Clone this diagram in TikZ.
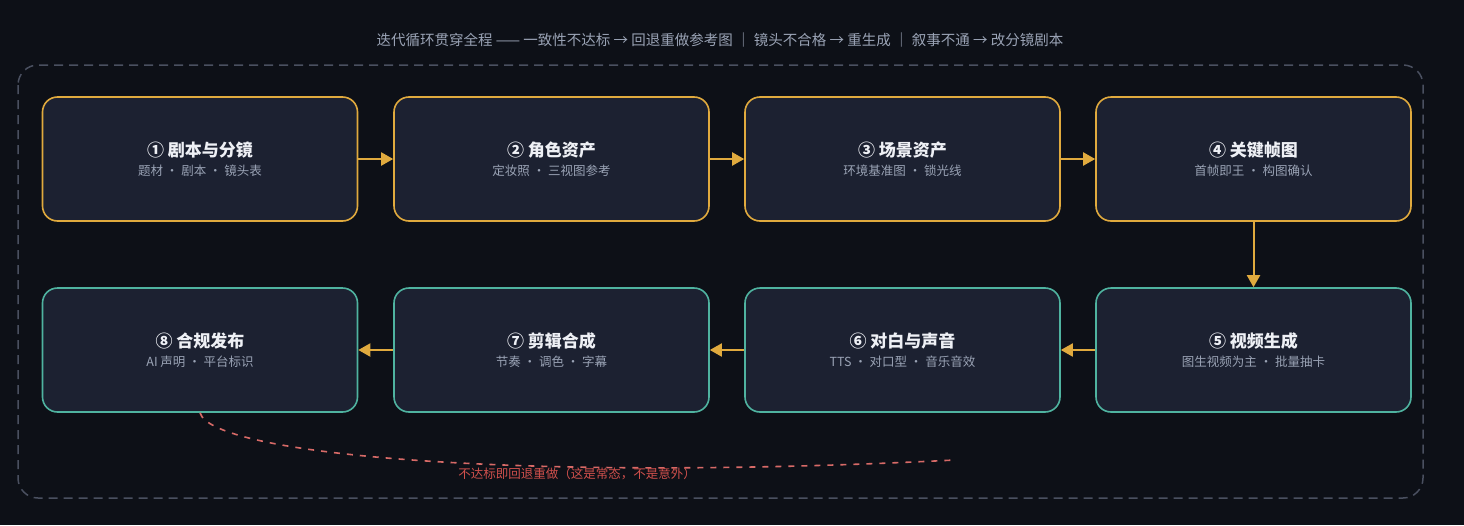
\documentclass[tikz,border=0pt]{standalone}
\usepackage{fontspec}
\setmainfont{Noto Sans CJK SC}
\usetikzlibrary{arrows.meta,positioning}
\definecolor{bgc}{HTML}{0D1017}
\definecolor{boxc}{HTML}{1C2131}
\definecolor{goldc}{HTML}{E0AA3E}
\definecolor{tealc}{HTML}{4FB3A0}
\definecolor{headc}{HTML}{EEF0F5}
\definecolor{subc}{HTML}{9AA3B5}
\definecolor{redc}{HTML}{D0504C}
\definecolor{framec}{HTML}{4A5060}
\newcommand{\stage}[2]{{\fontsize{17}{20}\selectfont\bfseries\color{headc}#1}\\[6pt]{\fontsize{12.5}{15}\selectfont\color{subc}#2}}

\begin{document}
\begin{tikzpicture}[x=1pt,y=-1pt,>={Triangle[length=12pt,width=13pt]},
		stagebox/.style={rectangle,rounded corners=15pt,draw,line width=1.6pt,fill=boxc,
			minimum width=315pt,minimum height=124pt,align=center,inner sep=0pt},
		gold/.style={stagebox,draw=goldc},
		teal/.style={stagebox,draw=tealc},
		flow/.style={->,line width=2pt,color=goldc}]
		\fill[bgc] (0,0) rectangle (1464,525);
		\useasboundingbox (0,0) rectangle (1464,525);
		\draw[framec,line width=1.5pt,dash pattern=on 9pt off 6pt,rounded corners=20pt] (18,65) rectangle (1423,498);
		\node (title) at (720,40) {\fontsize{14.5}{17}\selectfont\color{subc}迭代循环贯穿全程 —— 一致性不达标 → 回退重做参考图 ｜ 镜头不合格 → 重生成 ｜ 叙事不通 → 改分镜剧本};
		
		\node[gold] (s1) at (200,159) {\stage{① 剧本与分镜}{题材 · 剧本 · 镜头表}};
		\node[gold] (s2) at (551.5,159) {\stage{② 角色资产}{定妆照 · 三视图参考}};
		\node[gold] (s3) at (902.5,159) {\stage{③ 场景资产}{环境基准图 · 锁光线}};
		\node[gold] (s4) at (1253.5,159) {\stage{④ 关键帧图}{首帧即王 · 构图确认}};
		\node[teal] (s5) at (1253.5,350) {\stage{⑤ 视频生成}{图生视频为主 · 批量抽卡}};
		\node[teal] (s6) at (902.5,350) {\stage{⑥ 对白与声音}{TTS · 对口型 · 音乐音效}};
		\node[teal] (s7) at (551.5,350) {\stage{⑦ 剪辑合成}{节奏 · 调色 · 字幕}};
		\node[teal] (s8) at (200,350) {\stage{⑧ 合规发布}{AI 声明 · 平台标识}};
		
		\draw[flow] (s1) -- (s2);
		\draw[flow] (s2) -- (s3);
		\draw[flow] (s3) -- (s4);
		\draw[flow] (s4) -- (s5);
		\draw[flow] (s5) -- (s6);
		\draw[flow] (s6) -- (s7);
		\draw[flow] (s7) -- (s8);
		
		\coordinate (back) at (955,460);
		\draw[redc!85,line width=1.6pt,dash pattern=on 6pt off 7pt] (s8.south) .. controls (212,455) and (520,482) .. (back);
		\node (note) at (577,474) {\fontsize{12.5}{15}\selectfont\color{redc}不达标即回退重做（这是常态，不是意外）};
\end{tikzpicture}
\end{document}
